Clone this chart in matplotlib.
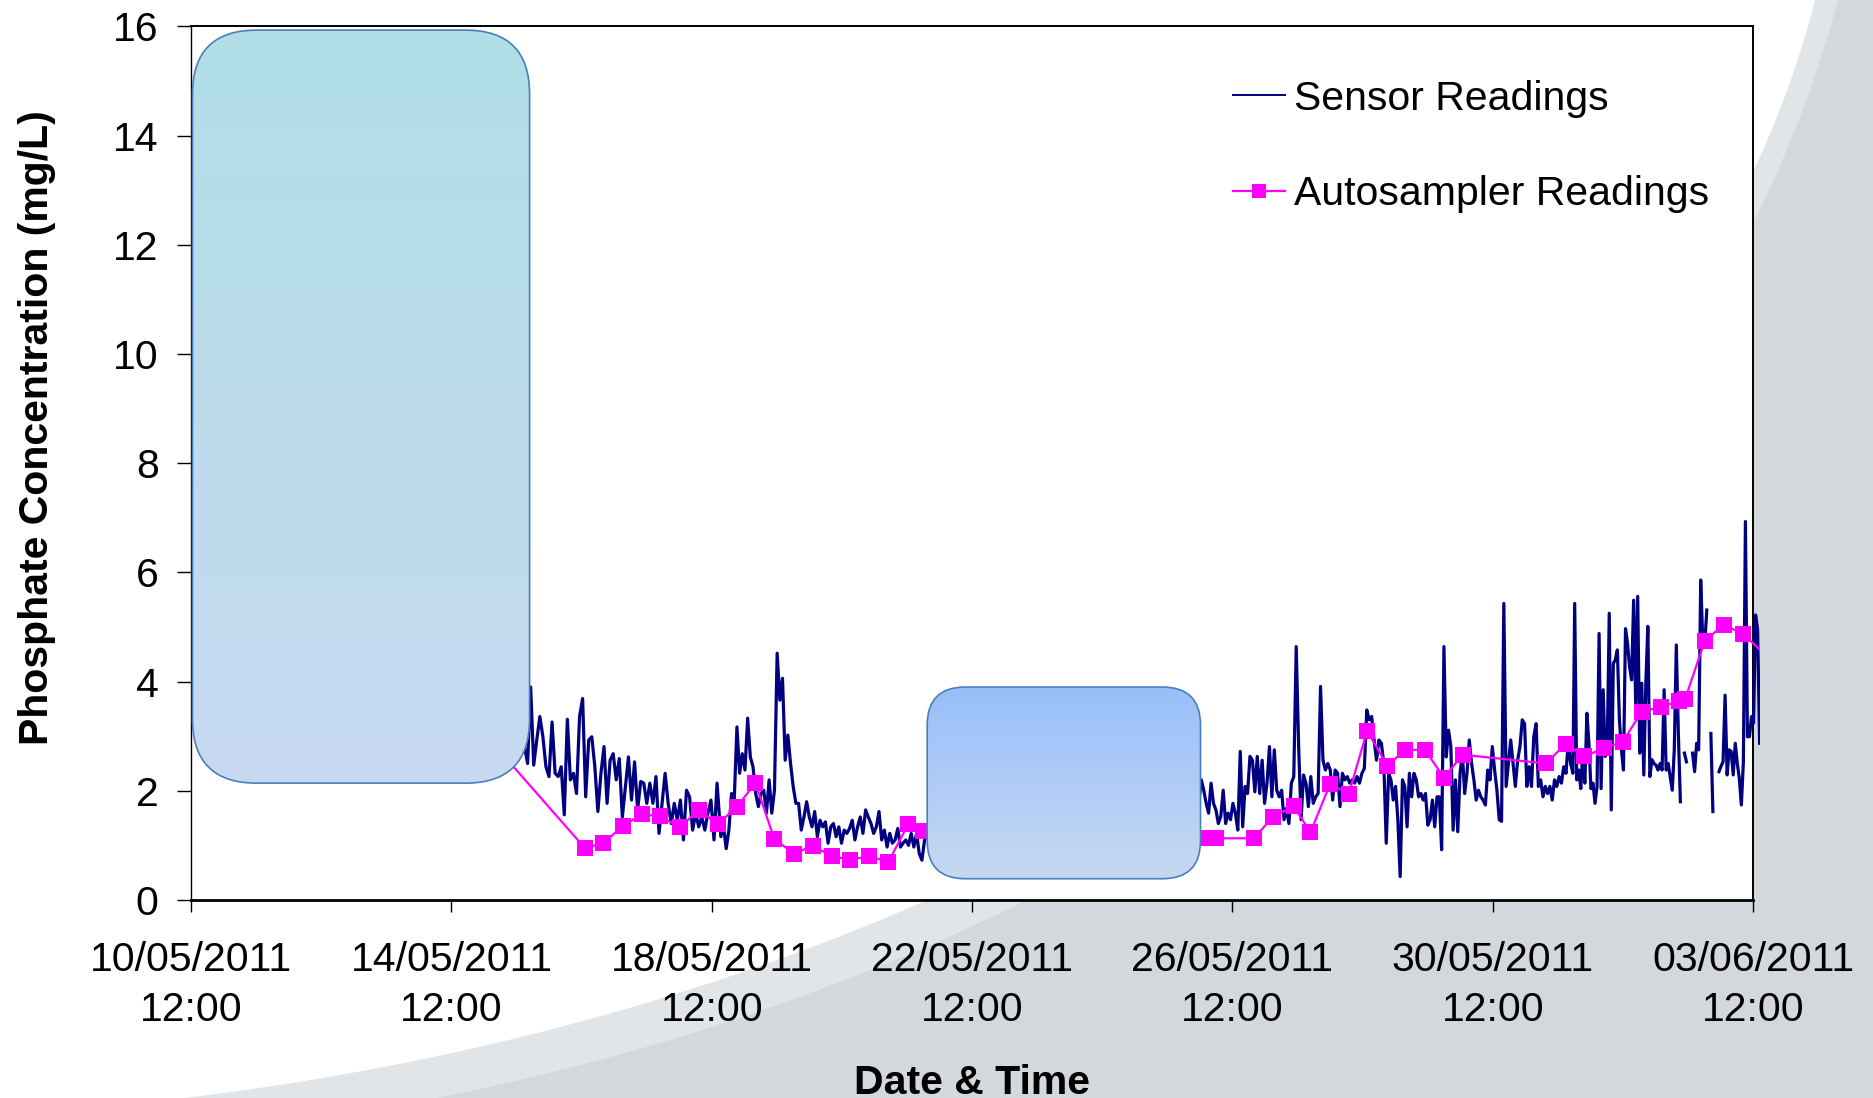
import numpy as np
import matplotlib
matplotlib.use("Agg")
import matplotlib.pyplot as plt
from matplotlib.patches import FancyBboxPatch, PathPatch, Rectangle
from matplotlib.path import Path
from matplotlib.transforms import IdentityTransform
from matplotlib.lines import Line2D
from datetime import datetime, timedelta

plt.rcParams['font.family'] = ['Liberation Sans', 'DejaVu Sans']

# x values are days after 10/05/2011 12:00
start = datetime(2011, 5, 10, 12, 0)
nan = np.nan

# sensor readings (regular logging interval)
sensor_a_span = (4.70, 8.081)
sensor_a = [3.0, 3.3, 2.8, 3.4, 3.1, 2.7, 3.2, 2.9, 3.5, 2.8, 2.5,
            3.9, 2.47, 2.93, 3.36, 2.99, 2.44, 2.26, 3.26, 2.32, 2.26, 2.44, 1.56, 3.31, 2.2,
            2.32, 1.95, 3.36, 3.69, 1.89, 2.93, 2.99, 2.44, 1.62, 2.32, 2.81, 1.77, 2.56, 2.68,
            2.2, 2.59, 1.52, 2.07, 2.62, 1.83, 2.53, 1.65, 2.17, 2.14, 1.77, 2.14, 1.77, 2.26,
            1.22, 1.77, 2.32, 1.77, 1.4, 1.77, 1.46, 1.83, 1.1, 2.01, 1.89, 1.28, 1.59, 1.34,
            1.52, 1.28, 1.59, 1.83, 1.1, 2.14]
sensor_b_span = (8.139, 11.476)
sensor_b = [1.16, 1.34, 0.94, 1.28, 1.95, 1.83, 3.17, 2.32, 2.68, 2.38, 3.33, 2.62, 2.44,
            1.95, 1.71, 1.95, 2.01, 1.59, 2.2, 1.59, 2.01, 4.52, 3.66, 4.06, 2.56, 3.02, 2.5,
            2.07, 1.77, 1.77, 1.28, 1.52, 1.8, 1.52, 1.34, 1.62, 1.16, 1.46, 1.34, 1.43, 1.04,
            1.34, 1.4, 1.16, 1.34, 1.04, 1.28, 1.22, 1.31, 1.46, 1.1, 1.34, 1.52, 1.22, 1.65,
            1.52, 1.4, 1.22, 1.34, 1.62, 1.1, 1.28, 0.97, 1.22, 1.04, 1.1, 1.31, 0.97, 1.04,
            1.1, 1.0, 1.22, 0.97, 1.22, 0.85, 0.73, 1.1, 1.2, 1.3, 1.1, 1.4, 1.2]
sensor_c_span = (15.298, 18.364)
sensor_c = [1.9, 2.2, 1.7, 2.0, 2.3, 1.8,
            2.2, 2.01, 1.77, 1.59, 2.14, 1.77, 1.65, 1.4, 1.53, 2.01, 1.4, 1.59, 1.47, 1.77,
            1.59, 1.28, 2.72, 1.34, 2.08, 1.95, 2.63, 2.56, 1.98, 2.63, 1.95, 2.56, 1.77, 2.14,
            2.81, 1.89, 2.75, 2.01, 1.89, 2.01, 1.47, 1.68, 1.4, 2.14, 2.26, 4.64, 2.81, 1.47,
            2.29, 2.14, 1.71, 2.26, 1.77, 1.89, 1.95, 3.91, 2.56, 2.38, 2.5, 2.38, 1.83, 2.38,
            2.32, 1.71, 2.32, 2.2, 2.26, 2.14, 2.2, 2.14, 2.26, 2.14, 2.32, 2.41, 3.48, 3.3,
            3.36, 2.93, 2.56, 2.93, 2.87, 2.5, 1.04]
sensor_d_span = (18.401, 21.233)
sensor_d = [2.32, 2.2, 1.83, 2.08, 1.47, 0.43, 2.2, 2.08, 1.34, 2.32, 1.89, 2.32, 2.2, 1.89,
            1.95, 1.83, 1.95, 1.37, 1.47, 1.83, 1.34, 1.89, 1.89, 0.92, 4.64, 2.62, 3.11, 2.81,
            1.28, 2.2, 1.25, 2.32, 2.69, 1.95, 2.32, 2.93, 2.5, 2.2, 1.83, 2.01, 1.89, 1.83,
            1.74, 2.38, 2.2, 2.81, 2.38, 2.01, 1.47, 1.44, 5.43, 2.08, 2.5, 2.93, 2.5, 2.08,
            2.56, 2.81, 3.3, 3.23, 2.08, 2.44, 2.08, 2.99, 3.23, 2.08, 2.2, 1.89, 2.08, 1.95,
            2.08, 1.83, 2.2, 2.08, 2.26, 2.14, 2.44, 2.32, 2.93, 2.5, 2.32]
sensor_e_span = (21.26, 24.102)
sensor_e = [5.43, 2.2, 2.38, 2.04, 2.75, 2.14, 3.42, 2.87, 2.04, 2.14, 1.77, 2.08, 4.88,
            2.04, 3.85, 2.63, 2.75, 5.25, 1.65, 4.33, 4.4, 4.58, 3.3, 2.75, 2.38, 4.97, 4.7,
            4.27, 4.03, 5.49, 3.6, 5.56, 2.69, 3.97, 2.29, 3.97, 5.01, 2.26, 2.57, 2.5, 2.47,
            2.38, 2.5, 2.38, 3.85, 2.38, 2.5, 2.26, 2.01, 2.75, 4.67, 3.05, 1.8, nan, 2.69,
            2.53, nan, nan, 2.69, 2.35, 2.87, 2.75, 5.86, 4.76, 4.7, 5.31, nan, 3.05, 1.62,
            nan, nan, 2.35, 2.45, 2.53, 3.75, 2.29, 2.75, 2.72, 2.29, 2.87, 2.5, 2.23, 1.74,
            2.53, 6.93, 2.99, 2.99, 3.36, 3.24, 5.22, 4.95, 2.87]

# autosampler readings
auto_day = [4.60, 6.05, 6.33, 6.63, 6.92, 7.21, 7.51, 7.80, 8.09, 8.38,
            8.67, 8.96, 9.26, 9.55, 9.84, 10.13, 10.42, 10.71, 11.02, 11.25,
            15.55, 15.75, 16.33, 16.62, 16.94, 17.20, 17.50, 17.79, 18.07, 18.38,
            18.66, 18.96, 19.25, 19.54, 20.82, 21.12, 21.41, 21.71, 22.00, 22.29,
            22.58, 22.87, 22.96, 23.26, 23.55, 23.85, 24.40]
auto_val = [2.92, 0.95, 1.04, 1.35, 1.57, 1.53, 1.33, 1.65, 1.39, 1.70,
            2.14, 1.12, 0.85, 0.99, 0.81, 0.73, 0.81, 0.69, 1.39, 1.27,
            1.14, 1.13, 1.13, 1.52, 1.72, 1.24, 2.12, 1.95, 3.10, 2.46,
            2.75, 2.75, 2.24, 2.66, 2.50, 2.86, 2.63, 2.78, 2.90, 3.45,
            3.53, 3.65, 3.69, 4.75, 5.04, 4.87, 4.25]

x_ticks = [0, 4, 8, 12, 16, 20, 24]
y_ticks = [0, 2, 4, 6, 8, 10, 12, 14, 16]

# the two masking boxes (days, mg/L)
box1 = (0.02, 5.20, 2.14, 15.93)
box2 = (11.31, 15.51, 0.39, 3.90)

# build sensor series, gap between the two runs
pieces = [(sensor_a_span, sensor_a), (sensor_b_span, sensor_b), None,
          (sensor_c_span, sensor_c), (sensor_d_span, sensor_d), (sensor_e_span, sensor_e)]
sx, sy = [], []
for p in pieces:
    if p is None:
        sx.append(13.4)
        sy.append(nan)
        continue
    (t0, t1), vals = p
    sx.extend(np.linspace(t0, t1, len(vals)))
    sy.extend(vals)
sx = np.array(sx)
sy = np.array(sy)

W, H = 1874, 1098
fig = plt.figure(figsize=(W / 100, H / 100), dpi=100)
fig.patch.set_facecolor('white')

# background swooshes (figure pixels, y from top)
def swoosh(p0, p1, p2, p3, color):
    pts = [p0, p1, p2, p3, (W, 0), (W, H), p0]
    pts = [(x / W, 1 - y / H) for x, y in pts]
    codes = [Path.MOVETO, Path.CURVE4, Path.CURVE4, Path.CURVE4,
             Path.LINETO, Path.LINETO, Path.CLOSEPOLY]
    fig.add_artist(PathPatch(Path(pts, codes), transform=fig.transFigure,
                             facecolor=color, edgecolor='none', zorder=-2))

swoosh((184, 1098), (1084, 990), (1690, 500), (1815, 0), '#E2E5E8')
swoosh((437, 1098), (1137, 958), (1692, 550), (1838, 0), '#D4D7DC')

ax = fig.add_axes([191.2 / W, (H - 900) / H, (1753 - 191.2) / W, (900 - 26.3) / H])
ax.set_facecolor('white')
ax.set_xlim(0, 24)
ax.set_ylim(0, 16)

clip = Rectangle((0, -1), 24.1, 18, transform=ax.transData)
l1, = ax.plot(sx, sy, color='#000080', lw=2.3, zorder=3)
l2, = ax.plot(auto_day, auto_val, color='#FF00FF', lw=1.6, marker='s',
              markersize=11.5, markeredgewidth=0, zorder=4)
for ln in (l1, l2):
    ln.set_clip_path(clip)


def rounded_box(bounds, radius, top, bottom):
    x0, x1, y0, y1 = bounds
    dx0, dy0 = ax.transData.transform((x0, y0))
    dx1, dy1 = ax.transData.transform((x1, y1))
    patch = FancyBboxPatch((dx0, dy0), dx1 - dx0, dy1 - dy0,
                           boxstyle=f"round,pad=0,rounding_size={radius}",
                           transform=IdentityTransform(), facecolor='none',
                           edgecolor='#4A7EBB', lw=1.2, zorder=6)
    ax.add_patch(patch)
    t = np.linspace(0, 1, 256)[:, None, None]
    img = (1 - t) * np.array(top)[None, None, :] + t * np.array(bottom)[None, None, :]
    im = ax.imshow(img, extent=(x0, x1, y0, y1), aspect='auto', origin='upper',
                   zorder=5, interpolation='bilinear')
    im.set_clip_path(patch)


rounded_box(box1, 64, (176 / 255, 222 / 255, 230 / 255), (199 / 255, 217 / 255, 241 / 255))
rounded_box(box2, 38, (152 / 255, 191 / 255, 250 / 255), (199 / 255, 217 / 255, 241 / 255))

ax.set_xlim(0, 24)
ax.set_ylim(0, 16)
ax.set_xticks(x_ticks)
ax.set_xticklabels([(start + timedelta(days=d)).strftime('%d/%m/%Y\n%H:%M') for d in x_ticks],
                   linespacing=1.38)
ax.set_yticks(y_ticks)
ax.set_yticklabels([str(v) for v in y_ticks])
ax.tick_params(axis='x', length=8.6, width=1.0, pad=21, labelsize=29.5, direction='out')
ax.tick_params(axis='y', length=10, width=1.0, pad=13.5, labelsize=29.5, direction='out')

for side, w in (('bottom', 2.0), ('left', 1.0), ('top', 1.4), ('right', 1.4)):
    ax.spines[side].set_linewidth(w)
    ax.spines[side].set_color('black')

ax.set_xlabel('Date & Time', fontsize=29.5, fontweight='bold', va='center')
ax.xaxis.set_label_coords(0.5, -0.209)
ax.set_ylabel('Phosphate Concentration (mg/L)', fontsize=29.5, fontweight='bold', va='center')
ax.yaxis.set_label_coords(-0.099, 0.541)

handles = [Line2D([], [], color='#000080', lw=1.4),
           Line2D([], [], color='#FF00FF', lw=1.6, marker='s', markersize=10, markeredgewidth=0)]
leg = ax.legend(handles, ['Sensor Readings', 'Autosampler Readings'], loc='upper left',
                bbox_to_anchor=(0.667, 0.939), frameon=False, fontsize=29.5,
                borderpad=0, borderaxespad=0, handlelength=1.27, handletextpad=0.22,
                labelspacing=1.4)
leg.set_zorder(10)

fig.savefig('out.png', dpi=100)
